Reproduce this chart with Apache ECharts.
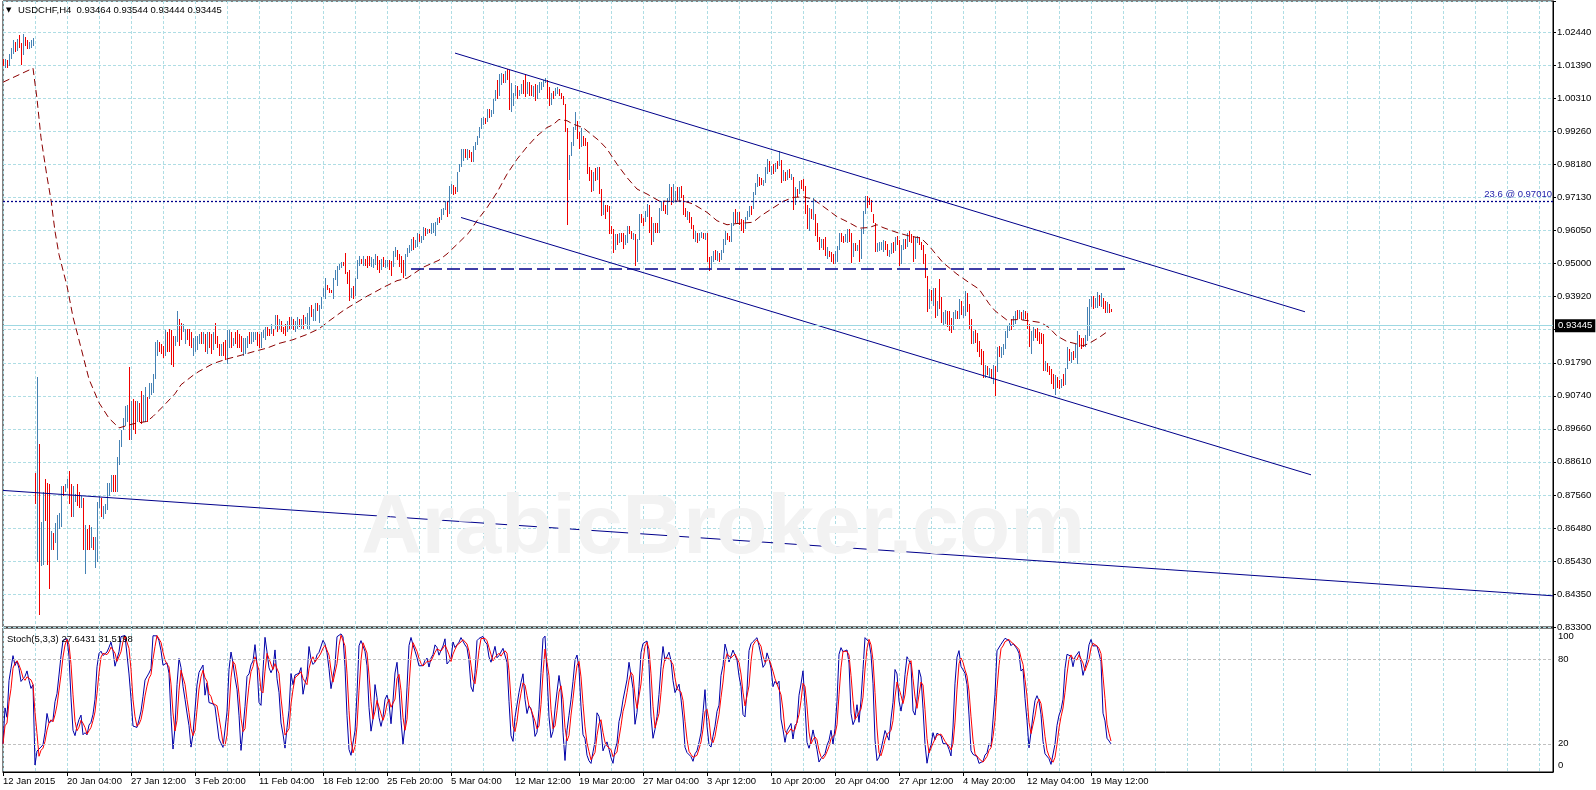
<!DOCTYPE html>
<html><head><meta charset="utf-8">
<script src="https://cdn.jsdelivr.net/npm/echarts@6/dist/echarts.min.js"></script>
<style>html,body{margin:0;padding:0;background:#fff;overflow:hidden}#c{width:1596px;height:790px}</style>
</head><body><div id="c"></div>
<script>
// ---- DATA (bar prices in units of 0.0001) ----
const PRICE_UNIT = 0.0001;
const barOpen0 = 10155;
const barHigh = [
10160,10158,10155,10175,10195,10220,10215,10222,10235,10210,
10240,10230,10220,10215,10220,10225,8827,9135,8920,8668,
8764,8808,8795,8789,8640,8634,8665,8690,8696,8783,
8783,8789,8808,8833,8789,8783,8758,8789,8764,8752,
8745,8658,8646,8658,8652,8621,8621,8733,8752,8745,
8720,8727,8795,8795,8820,8820,8820,8877,8933,8965,
9003,9040,9046,9166,9059,9065,9059,9059,9052,9090,
9078,9103,9071,9115,9115,9146,9247,9253,9247,9241,
9235,9285,9279,9291,9285,9266,9266,9347,9322,9310,
9304,9291,9291,9291,9279,9260,9266,9266,9272,9279,
9279,9272,9279,9279,9272,9279,9310,9266,9241,9241,
9247,9253,9285,9285,9279,9260,9279,9285,9272,9266,
9260,9260,9266,9279,9279,9279,9279,9279,9272,9279,
9285,9297,9297,9291,9304,9291,9335,9335,9322,9316,
9297,9304,9316,9329,9329,9322,9316,9329,9322,9322,
9335,9329,9341,9360,9366,9354,9372,9372,9366,9391,
9422,9454,9430,9422,9416,9454,9479,9491,9498,9504,
9504,9535,9473,9479,9422,9429,9454,9510,9523,9516,
9523,9516,9523,9523,9520,9515,9530,9525,9510,9515,
9520,9510,9512,9510,9508,9540,9555,9545,9530,9525,
9510,9530,9550,9560,9580,9585,9575,9598,9595,9590,
9618,9615,9612,9610,9630,9632,9635,9648,9650,9675,
9680,9702,9700,9750,9755,9752,9745,9795,9820,9868,
9870,9868,9868,9865,9860,9880,9890,9912,9940,9970,
9972,9970,9998,9998,9995,10030,10058,10090,10110,10112,
10110,10120,10127,10122,10080,10050,10075,10072,10060,10078,
10092,10110,10085,10085,10075,10072,10078,10075,10085,10085,
10090,10096,10092,10068,10050,10055,10065,10070,10062,10050,
10040,10015,9935,9850,9892,9940,9988,9960,9925,9935,
9910,9905,9890,9810,9800,9795,9808,9812,9810,9740,
9700,9690,9690,9686,9620,9610,9595,9595,9598,9600,
9600,9592,9620,9622,9605,9600,9595,9580,9660,9660,
9648,9670,9692,9690,9650,9630,9632,9630,9680,9702,
9700,9690,9710,9755,9745,9756,9735,9745,9745,9750,
9720,9680,9670,9665,9650,9625,9605,9600,9600,9602,
9600,9600,9598,9520,9525,9540,9545,9540,9535,9545,
9580,9605,9600,9590,9630,9665,9675,9665,9665,9645,
9640,9650,9670,9686,9685,9730,9760,9788,9778,9775,
9770,9810,9836,9830,9815,9820,9825,9830,9863,9835,
9800,9795,9800,9805,9790,9780,9745,9740,9765,9770,
9772,9750,9690,9680,9675,9710,9660,9630,9585,9580,
9578,9585,9555,9540,9536,9530,9540,9556,9600,9598,
9590,9595,9610,9612,9600,9565,9565,9560,9575,9610,
9670,9718,9718,9712,9705,9660,9630,9565,9568,9570,
9575,9572,9562,9545,9565,9568,9585,9590,9575,9560,
9580,9578,9600,9605,9595,9590,9585,9590,9585,9570,
9560,9530,9460,9418,9415,9420,9423,9380,9450,9391,
9345,9350,9348,9348,9326,9345,9350,9348,9385,9380,
9365,9412,9405,9369,9320,9284,9285,9278,9250,9225,
9219,9175,9170,9165,9160,9175,9170,9230,9235,9230,
9240,9284,9300,9310,9320,9330,9348,9350,9352,9345,
9350,9348,9340,9305,9284,9295,9290,9294,9280,9275,
9273,9185,9180,9170,9160,9144,9140,9135,9125,9130,
9145,9165,9230,9225,9215,9220,9240,9284,9270,9262,
9260,9270,9361,9387,9395,9395,9390,9407,9400,9405,
9390,9380,9375,9370,9354.4];
const barLow = [
10135,10130,10130,10135,10160,10175,10180,10185,10195,10140,
10170,10200,10190,10190,10195,10200,8725,8540,8368,8526,
8530,8670,8530,8451,8577,8577,8602,8545,8646,8652,
8752,8764,8777,8727,8683,8683,8733,8720,8714,8714,
8577,8501,8577,8577,8583,8577,8520,8539,8714,8683,
8677,8695,8708,8752,8764,8764,8764,8764,8852,8908,
8965,8977,8990,8933,8933,8965,8952,8990,8990,8983,
8990,8990,8990,9065,9078,9084,9128,9203,9216,9210,
9197,9203,9216,9216,9172,9166,9235,9247,9235,9253,
9279,9241,9253,9235,9228,9203,9216,9222,9241,9241,
9241,9216,9210,9228,9210,9222,9241,9228,9203,9203,
9203,9191,9178,9228,9228,9235,9241,9228,9228,9216,
9203,9210,9228,9241,9241,9247,9253,9235,9228,9228,
9260,9253,9266,9266,9272,9266,9291,9279,9291,9279,
9272,9266,9279,9291,9291,9285,9279,9291,9297,9291,
9291,9304,9291,9291,9329,9316,9316,9347,9310,9354,
9391,9385,9415,9404,9404,9385,9448,9429,9479,9485,
9491,9466,9435,9378,9390,9385,9395,9450,9491,9498,
9491,9491,9485,9491,9490,9485,9495,9480,9470,9478,
9490,9485,9488,9480,9460,9490,9520,9510,9490,9470,
9455,9460,9520,9535,9540,9545,9550,9552,9570,9565,
9575,9590,9595,9598,9595,9600,9590,9625,9630,9640,
9655,9672,9650,9660,9725,9720,9725,9730,9795,9810,
9830,9840,9835,9840,9826,9828,9865,9882,9905,9932,
9945,9948,9955,9970,9972,9980,10025,10030,10040,10075,
10080,10082,10090,9995,9988,10008,10040,10030,10040,10045,
10045,10035,10045,10040,10040,10035,10025,10030,10050,10060,
10070,10082,10030,10008,10010,10030,10040,10045,10040,10030,
10010,9925,9625,9768,9845,9880,9930,9900,9870,9875,
9880,9878,9790,9765,9730,9735,9765,9770,9725,9652,
9655,9645,9665,9595,9595,9535,9545,9560,9565,9570,
9548,9560,9565,9595,9580,9575,9492,9505,9575,9630,
9620,9635,9650,9600,9560,9570,9600,9600,9600,9670,
9668,9660,9655,9700,9690,9695,9700,9705,9700,9710,
9655,9650,9640,9630,9610,9580,9570,9565,9572,9582,
9580,9575,9505,9477,9485,9505,9510,9508,9505,9510,
9535,9560,9575,9570,9570,9620,9630,9630,9625,9605,
9600,9610,9640,9650,9655,9675,9720,9745,9750,9752,
9750,9760,9790,9795,9785,9790,9795,9805,9815,9760,
9765,9765,9770,9775,9770,9672,9690,9715,9725,9740,
9735,9660,9610,9606,9645,9640,9590,9570,9545,9550,
9545,9525,9515,9520,9505,9498,9500,9505,9545,9570,
9565,9570,9565,9570,9503,9520,9540,9540,9505,9515,
9595,9660,9680,9690,9665,9630,9536,9538,9540,9545,
9538,9545,9525,9520,9530,9535,9540,9560,9493,9500,
9545,9548,9555,9570,9565,9505,9515,9565,9560,9545,
9500,9455,9343,9355,9380,9365,9326,9330,9355,9310,
9300,9305,9295,9284,9278,9285,9320,9322,9321,9335,
9325,9332,9345,9290,9241,9241,9245,9214,9198,9175,
9133,9133,9140,9135,9130,9112,9074,9150,9200,9195,
9205,9225,9260,9284,9285,9295,9305,9320,9320,9318,
9318,9320,9290,9230,9209,9250,9260,9250,9241,9240,
9155,9155,9150,9140,9112,9095,9078,9100,9095,9100,
9105,9110,9160,9185,9180,9190,9195,9176,9230,9225,
9230,9232,9251,9267,9360,9355,9358,9358,9365,9360,
9355,9340,9342,9340,9344.4];
const barClose = [
10140,10150,10138,10170,10185,10200,10190,10215,10205,10180,
10225,10215,10195,10205,10210,10215,8740,8980,8600,8650,
8720,8690,8560,8520,8630,8600,8650,8680,8690,8770,
8760,8785,8800,8740,8700,8720,8745,8730,8725,8740,
8590,8600,8590,8580,8600,8590,8610,8720,8720,8700,
8715,8720,8780,8790,8810,8780,8775,8870,8925,8960,
8995,9030,9040,8960,9050,9000,8980,9040,9000,8995,
9060,9090,9010,9110,9112,9140,9240,9245,9225,9215,
9205,9280,9270,9230,9185,9175,9260,9330,9300,9270,
9285,9290,9260,9245,9235,9250,9260,9262,9265,9250,
9270,9225,9270,9240,9220,9270,9250,9235,9210,9235,
9220,9195,9280,9282,9245,9255,9248,9240,9235,9225,
9250,9255,9262,9250,9265,9275,9278,9245,9240,9275,
9283,9295,9272,9270,9300,9290,9330,9290,9295,9285,
9278,9275,9310,9295,9320,9300,9312,9325,9305,9318,
9300,9325,9338,9355,9335,9350,9368,9352,9362,9388,
9418,9430,9420,9408,9406,9450,9475,9488,9496,9502,
9495,9470,9440,9390,9410,9395,9450,9505,9518,9505,
9515,9500,9495,9493,9500,9505,9525,9490,9480,9505,
9495,9500,9505,9485,9470,9535,9540,9515,9495,9480,
9465,9525,9545,9555,9575,9560,9570,9590,9575,9585,
9610,9600,9608,9602,9625,9628,9630,9640,9635,9670,
9675,9698,9655,9745,9750,9740,9738,9790,9815,9860,
9860,9845,9862,9845,9832,9875,9885,9908,9935,9965,
9968,9955,9992,9975,9980,10025,10055,10040,10100,10105,
10085,10115,10100,10005,10010,10045,10070,10045,10055,10072,
10055,10050,10080,10078,10048,10065,10035,10040,10080,10082,
10088,10094,10040,10020,10045,10035,10060,10062,10045,10035,
10015,9935,9800,9845,9885,9935,9980,9910,9880,9915,
9890,9882,9800,9775,9740,9785,9775,9805,9735,9665,
9690,9685,9672,9605,9600,9545,9585,9570,9590,9575,
9560,9588,9610,9600,9585,9595,9510,9575,9650,9645,
9640,9665,9685,9615,9570,9620,9610,9605,9675,9695,
9675,9665,9705,9750,9700,9710,9725,9715,9740,9720,
9665,9660,9662,9640,9615,9590,9595,9575,9590,9598,
9585,9592,9515,9490,9515,9520,9515,9530,9512,9540,
9575,9595,9580,9575,9625,9660,9640,9650,9635,9630,
9612,9645,9665,9680,9675,9725,9755,9780,9760,9758,
9765,9805,9830,9800,9810,9800,9822,9815,9830,9770,
9790,9785,9795,9780,9785,9690,9735,9730,9760,9750,
9745,9670,9620,9660,9650,9650,9600,9580,9555,9570,
9560,9535,9545,9530,9525,9510,9535,9550,9590,9585,
9580,9590,9605,9580,9520,9560,9550,9555,9515,9600,
9665,9710,9700,9695,9670,9635,9545,9558,9560,9565,
9570,9550,9530,9535,9560,9545,9580,9565,9505,9550,
9575,9555,9595,9580,9570,9515,9575,9580,9570,9550,
9510,9462,9355,9410,9395,9400,9340,9370,9365,9320,
9335,9340,9310,9295,9290,9335,9345,9330,9375,9345,
9360,9400,9355,9300,9255,9275,9250,9225,9205,9185,
9145,9160,9150,9160,9140,9165,9150,9220,9210,9225,
9235,9275,9290,9305,9300,9325,9340,9330,9345,9325,
9340,9325,9300,9250,9270,9290,9275,9260,9250,9245,
9170,9178,9160,9145,9120,9105,9130,9110,9105,9125,
9115,9160,9220,9190,9210,9195,9235,9270,9260,9250,
9240,9262,9355,9375,9385,9365,9385,9400,9370,9398,
9362,9352,9365,9346.4,9344.5];

// moving average (dark red dashed), read at sample bars
const maIdx = [0,15,17,19,22,24,26,28,32,35,39,43,48,53,58,65,72,75,80,86,89,95,98,105,112,118,125,132,138,145,152,158,163,170,173,182,185,190,197,202,210,218,222,228,233,237,242,247,252,257,262,267,272,275,278,282,285,290,293,298,302,307,312,317,322,328,333,340,345,352,357,362,367,375,379,385,390,395,400,405,412,417,423,428,433,437,440,447,453,459,463,470,477,483,488,493,496,502,508,515,519,523,527,532,537,540,543,548,552];
const maVal = [1.0084,1.0129,1.0031,0.9905,0.9780,0.9705,0.9604,0.9529,0.9428,0.9328,0.9229,0.9128,0.9052,0.9002,0.8971,0.8984,0.8992,0.9008,0.9040,0.9081,0.9110,0.9140,0.9153,0.9178,0.9193,0.9203,0.9216,0.9228,0.9243,0.9255,0.9272,0.9290,0.9315,0.9348,0.9360,0.9395,0.9405,0.9423,0.9445,0.9453,0.9488,0.9511,0.9531,0.9568,0.9600,0.9638,0.9680,0.9729,0.9788,0.9836,0.9876,0.9911,0.9938,0.9947,0.9964,0.9960,0.9949,0.9938,0.9922,0.9896,0.9869,0.9820,0.9777,0.9740,0.9724,0.9702,0.9700,0.9702,0.9692,0.9665,0.9638,0.9625,0.9629,0.9633,0.9654,0.9679,0.9700,0.9713,0.9715,0.9708,0.9675,0.9651,0.9632,0.9614,0.9616,0.9625,0.9616,0.9600,0.9589,0.9582,0.9557,0.9503,0.9466,0.9439,0.9418,0.9371,0.9348,0.9318,0.9320,0.9314,0.9310,0.9294,0.9267,0.9249,0.9241,0.9235,0.9243,0.9262,0.9280];

// axis tick labels
const timeLabels = ['12 Jan 2015','20 Jan 04:00','27 Jan 12:00','3 Feb 20:00','11 Feb 04:00','18 Feb 12:00','25 Feb 20:00','5 Mar 04:00','12 Mar 12:00','19 Mar 20:00','27 Mar 04:00','3 Apr 12:00','10 Apr 20:00','20 Apr 04:00','27 Apr 12:00','4 May 20:00','12 May 04:00','19 May 12:00'];
const yTickLabels = ['0.83300','0.84350','0.85430','0.86480','0.87560','0.88610','0.89660','0.90740','0.91790','0.92870','0.93920','0.95000','0.96050','0.97130','0.98180','0.99260','1.00310','1.01390','1.02440'];
const stochTicks = [0, 20, 80, 100];
const stochLevels = [80, 20];

// drawn objects: [bar index, price]
const fibLevel = 0.97010, fibText = '23.6 @ 0.97010';
const lastPrice = 0.93445;
const hLine = [[204, 0.94823], [561, 0.94823]];
const channelUpper = [[226, 1.01777], [651, 0.93448]];
const channelLower = [[229, 0.96484], [654, 0.88200]];
const longTrend = [[0, 0.87697], [775, 0.84304]];

const titleText = 'USDCHF,H4  0.93464 0.93544 0.93444 0.93445';
const stochTitle = 'Stoch(5,3,3) 27.6431 31.5198';
const watermark = 'ArabicBroker.com';

// ---- layout / style ----
const TOTAL_SLOTS = 776;
const Y_MIN = 0.833, Y_STEP = 0.0106333333, Y_MAX = 1.034541;
const S_MAX = 102.1;
const GRID_C = '#aedde4', UP = '#4682B4', DN = '#f00000', NAVY = '#00008b';
const FONT = 'Liberation Sans';

const cats = Array.from({length: TOTAL_SLOTS}, (_, i) => String(i));
const ohlc = barClose.map((c, i) => [i, (i ? barClose[i - 1] : barOpen0) * PRICE_UNIT, barHigh[i] * PRICE_UNIT, barLow[i] * PRICE_UNIT, c * PRICE_UNIT]);

// Stochastic(5,3,3) computed from the bars (MT4 definition)
const N = barClose.length;
const ll = [], hh = [];
for (let i = 0; i < N; i++) {
  let lo = Infinity, hi = -Infinity;
  for (let j = Math.max(0, i - 4); j <= i; j++) { lo = Math.min(lo, barLow[j]); hi = Math.max(hi, barHigh[j]); }
  ll.push(lo); hh.push(hi);
}
const stochK = [], stochD = [];
for (let i = 0; i < N; i++) {
  let num = 0, den = 0;
  for (let j = Math.max(0, i - 2); j <= i; j++) { num += barClose[j] - ll[j]; den += hh[j] - ll[j]; }
  stochK.push(den ? +(100 * num / den).toFixed(2) : 50);
}
for (let i = 0; i < N; i++) {
  let s = 0, n = 0;
  for (let j = Math.max(0, i - 2); j <= i; j++) { s += stochK[j]; n++; }
  stochD.push(+(s / n).toFixed(2));
}

const chart = echarts.init(document.getElementById('c'), null, {renderer: 'canvas'});
const every16 = (idx) => idx % 16 === 0;
const every32 = (idx) => idx % 32 === 0 && idx / 32 < timeLabels.length;
const vSplit = () => ({show: true, interval: every16, lineStyle: {color: GRID_C, type: [3, 2], width: 1}});

const option = {
  animation: false,
  backgroundColor: '#fff',
  grid: [
    {left: 3, right: 43, top: 1, height: 626, show: true, borderColor: '#000', borderWidth: 1, backgroundColor: 'transparent', outerBoundsMode: 'none'},
    {left: 3, right: 43, top: 628, height: 144, show: true, borderColor: '#000', borderWidth: 1, backgroundColor: 'transparent', outerBoundsMode: 'none'}
  ],
  xAxis: [
    {gridIndex: 0, type: 'category', data: cats, boundaryGap: false, axisLine: {show: false},
     axisTick: {show: false, interval: every16}, axisLabel: {show: false, interval: every16},
     splitLine: vSplit()},
    {gridIndex: 1, type: 'category', data: cats, boundaryGap: false,
     axisLine: {show: true, lineStyle: {color: '#000'}},
     axisTick: {show: true, interval: every32, length: 4, lineStyle: {color: '#000'}},
     axisLabel: {show: true, interval: every32, align: 'left', margin: 4, color: '#000', fontSize: 9.5, fontFamily: FONT,
       formatter: (v, idx) => timeLabels[Math.round(idx / 32)] || ''},
     splitLine: vSplit()}
  ],
  yAxis: [
    {gridIndex: 0, type: 'value', position: 'right', min: Y_MIN, max: Y_MAX, interval: Y_STEP,
     axisLine: {show: true, lineStyle: {color: '#000'}},
     axisTick: {show: true, length: 3, lineStyle: {color: '#000'}},
     axisLabel: {color: '#000', fontSize: 9.5, fontFamily: FONT, margin: 4,
       formatter: v => { const k = Math.round((v - Y_MIN) / Y_STEP); return (Math.abs(v - (Y_MIN + k * Y_STEP)) < 1e-6 && yTickLabels[k]) ? yTickLabels[k] : ''; }},
     splitLine: {show: true, lineStyle: {color: GRID_C, type: [3, 2], width: 1}}},
    {gridIndex: 1, type: 'value', position: 'right', min: 0, max: S_MAX, interval: 20,
     axisLine: {show: true, lineStyle: {color: '#000'}},
     axisTick: {show: false},
     axisLabel: {color: '#000', fontSize: 9.5, fontFamily: FONT, margin: 5,
       formatter: v => v === 100 ? '{top|100}' : v === 0 ? '{bot|0}' : (stochTicks.indexOf(v) >= 0 ? String(v) : ''),
       rich: {top: {padding: [11, 0, 0, 0], fontSize: 9.5, fontFamily: FONT, color: '#000'},
              bot: {padding: [0, 0, 13, 0], fontSize: 9.5, fontFamily: FONT, color: '#000'}}},
     splitLine: {show: false}}
  ],
  series: [
    {type: 'custom', name: 'USDCHF', xAxisIndex: 0, yAxisIndex: 0, z: 3, data: ohlc, encode: {x: 0, y: [1, 2, 3, 4]},
     renderItem: (params, api) => {
       const i = api.value(0);
       const top = api.coord([i, api.value(2)]);
       const bot = api.coord([i, api.value(3)]);
       const x = Math.round(top[0]);
       const y1 = Math.round(top[1]), y2 = Math.max(Math.round(bot[1]), y1 + 1);
       return {type: 'rect', shape: {x: x, y: y1, width: 1, height: y2 - y1},
         style: {fill: api.value(4) >= api.value(1) ? UP : DN}};
     }},
    {type: 'line', name: 'MA', xAxisIndex: 0, yAxisIndex: 0, z: 4, showSymbol: false, symbol: 'none',
     data: maIdx.map((ix, k) => [ix, maVal[k]]),
     lineStyle: {color: '#8b0000', width: 1, type: [7, 4]},
     markLine: {silent: true, symbol: 'none', animation: false, label: {show: false},
       data: [
         [{coord: channelUpper[0]}, {coord: channelUpper[1], lineStyle: {color: NAVY, width: 1, type: 'solid'}}],
         [{coord: channelLower[0]}, {coord: channelLower[1], lineStyle: {color: NAVY, width: 1, type: 'solid'}}],
         [{coord: longTrend[0]}, {coord: longTrend[1], lineStyle: {color: NAVY, width: 1, type: 'solid'}}],
         [{coord: hLine[0]}, {coord: hLine[1], lineStyle: {color: NAVY, width: 1.6, type: [13, 5]}}],
         {yAxis: fibLevel, lineStyle: {color: NAVY, width: 1.3, type: [2, 2]},
          label: {show: true, position: 'insideEndTop', formatter: fibText, color: '#1c1ca8', fontSize: 9.5, fontFamily: FONT, distance: [1, 2]}},
         {yAxis: lastPrice, lineStyle: {color: '#9ed8e2', width: 1, type: 'solid'},
          label: {show: true, position: 'end', formatter: lastPrice.toFixed(5), color: '#fff', backgroundColor: '#000',
            fontSize: 9.5, fontFamily: FONT, padding: [2, 3, 1, 3], distance: 2}}
       ]}},
    {type: 'line', name: 'Stoch main', xAxisIndex: 1, yAxisIndex: 1, z: 3, showSymbol: false, symbol: 'none',
     data: stochK, lineStyle: {color: '#0000a8', width: 1},
     markLine: {silent: true, symbol: 'none', label: {show: false},
       data: stochLevels.map(v => ({yAxis: v, lineStyle: {color: '#c0c0c0', type: [3, 2], width: 1}}))}},
    {type: 'line', name: 'Stoch signal', xAxisIndex: 1, yAxisIndex: 1, z: 4, showSymbol: false, symbol: 'none',
     data: stochD, lineStyle: {color: '#ff0000', width: 1}}
  ],
  graphic: [
    {type: 'text', x: 723, y: 530, z: 100, silent: true,
     style: {text: watermark, fill: '#f2f2f2', font: 'bold 84px ' + FONT, textAlign: 'center', textVerticalAlign: 'middle'}},
    {type: 'text', x: 6, y: 10.5, z: 110, style: {text: '▼', fill: '#000', font: '7px DejaVu Sans', textVerticalAlign: 'middle'}},
    {type: 'text', x: 18, y: 10.5, z: 110, style: {text: titleText, fill: '#000', font: '9.5px ' + FONT, textVerticalAlign: 'middle'}},
    {type: 'text', x: 7, y: 639, z: 110, style: {text: stochTitle, fill: '#000', font: '9.5px ' + FONT, textVerticalAlign: 'middle'}}
  ]
};
chart.setOption(option);
</script>
</body></html>
